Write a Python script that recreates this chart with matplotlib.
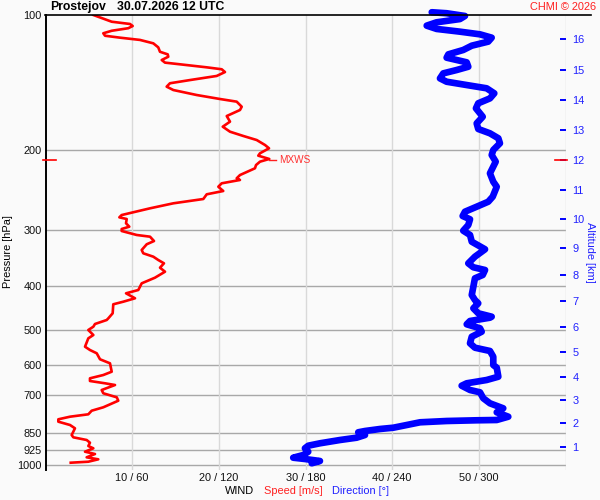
import matplotlib
matplotlib.use("Agg")
import matplotlib.pyplot as plt
from matplotlib.lines import Line2D

plt.rcParams['font.family'] = ['Liberation Sans', 'DejaVu Sans']

# ---------------- data ----------------
station = "Prostejov"
stamp = "30.07.2026 12 UTC"

speed_p = [100.0, 103.5, 104.7, 105.8, 107.0, 108.4, 109.8, 111.2, 112.3, 113.6,
           115.6, 118.0, 120.7, 122.3, 123.8, 125.9, 127.6, 128.7, 130.7, 132.0,
           133.9, 136.6, 139.5, 141.8, 144.3, 146.8, 150.6, 153.7, 155.8, 159.9,
           162.6, 167.7, 172.6, 177.1, 181.7, 185.7, 189.6, 194.5, 197.8, 202.9,
           205.4, 208.9, 211.8, 215.5, 219.1, 226.8, 230.6, 232.6, 236.6, 240.8,
           246.1, 250.3, 256.4, 262.1, 268.9, 274.4, 278.3, 281.6, 284.0, 290.3,
           295.4, 298.9, 302.0, 308.2, 310.9, 317.9, 323.2, 332.8, 338.5, 344.4,
           350.3, 356.3, 364.4, 371.9, 383.5, 394.7, 408.4, 415.4, 426.1, 433.6,
           439.4, 460.1, 472.1, 476.2, 486.0, 492.8, 501.2, 514.2, 523.0, 545.9,
           555.2, 564.6, 582.2, 594.3, 620.4, 631.0, 641.7, 650.6, 658.3, 664.1,
           681.3, 692.9, 707.2, 719.6, 744.3, 757.4, 771.5, 781.0, 791.5, 801.2,
           814.9, 828.8, 857.7, 867.9, 879.9, 892.2, 907.4, 918.1, 934.2, 945.3,
           961.4, 971.3, 983.3, 988.3]
speed_ms = [5.52, 7.64, 9.75, 10.06, 9.55, 7.64, 6.67, 6.87, 8.60, 10.90,
            12.44, 13.01, 13.21, 14.10, 14.17, 13.41, 13.79, 15.52, 18.60, 20.33,
            20.71, 19.75, 16.67, 14.36, 13.98, 14.75, 17.45, 20.13, 22.06, 22.64,
            22.44, 20.91, 21.29, 20.45, 21.29, 22.82, 24.37, 25.33, 25.79, 24.75,
            24.55, 25.82, 24.75, 24.29, 24.17, 22.44, 22.06, 22.44, 20.33, 19.94,
            20.51, 18.60, 18.21, 14.75, 12.06, 10.13, 8.79, 8.52, 9.37, 9.29,
            9.67, 8.79, 8.79, 10.52, 12.06, 12.52, 11.68, 11.10, 11.28, 12.44,
            13.01, 13.67, 13.21, 13.79, 12.63, 11.10, 10.71, 9.29, 10.33, 8.98,
            7.82, 7.75, 7.25, 7.06, 5.71, 5.52, 4.94, 5.52, 4.94, 4.56,
            5.13, 5.91, 6.29, 7.44, 7.64, 6.67, 5.13, 5.13, 6.87, 8.02,
            6.48, 6.67, 8.22, 8.40, 6.67, 5.33, 4.94, 2.83, 1.48, 1.48,
            2.83, 3.40, 3.02, 3.21, 4.75, 5.13, 4.94, 5.52, 4.56, 5.71,
            4.75, 6.09, 4.94, 2.91]

dir_p = [98.6, 99.1, 100.5, 102.1, 103.8, 105.6, 107.4, 108.9, 110.4, 112.3,
         114.6, 117.0, 119.6, 122.3, 124.4, 125.9, 127.4, 130.3, 132.5, 134.8,
         138.3, 140.7, 143.1, 145.5, 149.3, 153.2, 157.1, 161.2, 168.3, 174.1,
         179.2, 183.2, 187.9, 192.8, 199.5, 204.7, 211.8, 224.8, 234.7, 240.8,
         253.4, 260.0, 266.7, 273.6, 279.7, 284.4, 292.9, 301.5, 308.2, 319.0,
         331.6, 344.4, 356.3, 363.6, 368.7, 378.2, 384.7, 401.6, 419.0, 429.9,
         437.2, 448.5, 460.1, 468.2, 470.6, 478.6, 486.8, 496.8, 505.6, 518.7,
         536.5, 548.7, 558.0, 574.6, 599.5, 607.8, 636.5, 647.3, 658.3, 666.5,
         681.3, 689.4, 710.8, 729.3, 748.2, 763.7, 781.0, 794.3, 795.5, 798.4,
         803.7, 814.9, 826.3, 831.7, 840.3, 845.9, 857.7, 869.6, 879.9, 894.9,
         906.0, 918.1, 934.2, 950.1, 963.3, 969.8, 979.7, 991.3]
dir_deg = [267.4, 277.7, 290.4, 286.9, 270.8, 263.9, 270.8, 286.9, 300.8, 308.9,
           306.5, 295.1, 289.2, 278.9, 277.7, 284.7, 291.6, 292.7, 284.7, 275.4,
           273.1, 277.7, 291.6, 305.4, 310.7, 307.7, 299.6, 298.0, 302.7, 298.5,
           299.6, 307.7, 313.5, 314.6, 310.0, 308.9, 311.7, 307.7, 310.0, 312.4,
           309.6, 306.5, 298.5, 290.4, 288.8, 293.9, 292.7, 289.2, 293.9, 295.1,
           304.3, 297.3, 292.7, 296.2, 304.3, 302.7, 297.3, 296.2, 295.1, 297.3,
           299.6, 296.2, 299.6, 308.9, 307.7, 293.9, 291.6, 300.8, 302.0, 295.1,
           293.9, 297.3, 307.7, 310.0, 310.0, 312.4, 313.5, 305.4, 291.6, 288.1,
           293.9, 300.8, 303.1, 307.7, 316.9, 312.4, 320.4, 312.4, 298.5, 277.7,
           259.3, 250.1, 240.8, 231.6, 221.2, 216.5, 221.2, 215.4, 203.9, 190.0,
           181.9, 179.6, 181.9, 178.5, 171.5, 179.6, 190.0, 184.3]

pressure_ticks = [100, 200, 300, 400, 500, 600, 700, 850, 925, 1000]
speed_ticks = [10, 20, 30, 40, 50]
speed_tick_labels = ["10 / 60", "20 / 120", "30 / 180", "40 / 240", "50 / 300"]

alt_km = [1, 2, 3, 4, 5, 6, 7, 8, 9, 10, 11, 12, 13, 14, 15, 16]
alt_p = [910.6, 806.6, 717.1, 636.5, 560.9, 492.8, 432.1, 377.3, 328.6, 284.0,
         244.8, 210.0, 179.7, 154.5, 132.5, 113.1]

mxws_speed = 25.8
mxws_p = 210.0

# ---------------- figure ----------------
W, H = 600, 500
bg = '#fafafa'
fig = plt.figure(figsize=(6, 5), dpi=100, facecolor=bg)
ax = fig.add_axes([45.5 / W, 30 / H, 520 / W, 455 / H])
ax.set_facecolor(bg)
ax.set_yscale('log')
ax.set_ylim(1025.9, 100)
ax.set_xlim(0, 60)

for s in ['top', 'right', 'bottom']:
    ax.spines[s].set_visible(False)
ax.spines['left'].set_color('black')
ax.spines['left'].set_linewidth(1.4)

# grid
for p in pressure_ticks[1:]:
    ax.axhline(p, color='#a8a8a8', lw=1.0, zorder=1)
for s in speed_ticks + [60]:
    ax.axvline(s, color='#d9d9d9', lw=1.0, zorder=1)

ax.set_yticks(pressure_ticks)
ax.set_yticklabels([str(p) for p in pressure_ticks])
ax.yaxis.set_minor_locator(matplotlib.ticker.NullLocator())
ax.tick_params(axis='y', length=0, pad=2.5, labelsize=7.9, labelcolor='#111111')

ax.set_xticks(speed_ticks)
ax.set_xticklabels(speed_tick_labels)
ax.tick_params(axis='x', length=0, pad=2.5, labelsize=7.9, labelcolor='#111111')

# curves
ax.plot(dir_deg and [d / 6.0 for d in dir_deg], dir_p, color='#0000ff', lw=4.8,
        solid_capstyle='round', solid_joinstyle='round', zorder=3, clip_on=False)
ax.plot(speed_ms, speed_p, color='#ff0000', lw=1.9,
        solid_joinstyle='round', zorder=4)

# MXWS marker
ax.plot([mxws_speed, mxws_speed + 0.8], [mxws_p, mxws_p], color='#ff2020', lw=1.0, zorder=4)
ax.text(mxws_speed + 1.2, mxws_p, "MXWS", color='#ff3030', fontsize=7.2,
        va='center', ha='left')
ytr = ax.get_yaxis_transform()
ax.plot([-0.005, 0.0202], [mxws_p, mxws_p], color='#ff0000', lw=1.2,
        transform=ytr, clip_on=False, zorder=6)

# altitude axis
ax2 = ax.twinx()
ax2.set_yscale('log')
ax2.set_ylim(ax.get_ylim())
for s in ax2.spines.values():
    s.set_visible(False)
ax2.set_yticks(alt_p)
ax2.set_yticklabels([str(a) for a in alt_km])
ax2.yaxis.set_minor_locator(matplotlib.ticker.NullLocator())
ax2.tick_params(axis='y', direction='in', length=4.4, width=1.4, color='#0000ff',
                labelcolor='#2020ff', labelsize=7.9, pad=5)
ytr2 = ax2.get_yaxis_transform()
ax2.plot([0.9798, 1.0029], [mxws_p, mxws_p], color='#ff0000', lw=1.2,
         transform=ytr2, clip_on=False, zorder=6)

# top line
fig.add_artist(Line2D([45 / W, 591 / W], [1 - 15 / H, 1 - 15 / H], color='black', lw=1.2))

# texts
fig.text(50 / W, 1 - 7 / H, station, fontsize=8.8, fontweight='bold', va='center', ha='left')
fig.text(117 / W, 1 - 7 / H, stamp, fontsize=8.8, fontweight='bold', va='center', ha='left')
fig.text(596 / W, 1 - 7 / H, "CHMI © 2026", fontsize=7.9, color='#ff2020', va='center', ha='right')
fig.text(8 / W, 1 - 252 / H, "Pressure [hPa]", fontsize=7.9, rotation=90, va='center', ha='center')
fig.text(590 / W, 1 - 252 / H, "Altitude [km]", fontsize=7.9, rotation=270, color='#2020ff',
         va='center', ha='center')
fig.text(225 / W, 1 - 491 / H, "WIND", fontsize=7.9, va='center', ha='left')
fig.text(264 / W, 1 - 491 / H, "Speed [m/s]", fontsize=7.9, color='#ff2020', va='center', ha='left')
fig.text(332 / W, 1 - 491 / H, "Direction [°]", fontsize=7.9, color='#2020ff', va='center', ha='left')

fig.savefig("out.png", dpi=100, facecolor=bg)
